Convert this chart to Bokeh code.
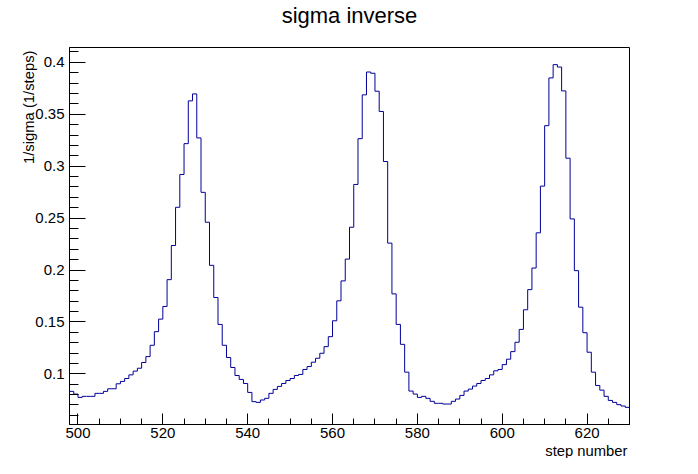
from bokeh.plotting import figure
from bokeh.models import Range1d, FixedTicker, Title
from bokeh.embed import file_html
from bokeh.resources import INLINE

# ---- data -------------------------------------------------------------
bin_start = 498          # first bin lower edge (bins of width 1)
bin_width = 1
values = [
    0.0831, 0.0805, 0.0773, 0.0783, 0.0783, 0.0783, 0.0812, 0.0812, 0.0831, 0.0856,  # 498-507
    0.0856, 0.0904, 0.0927, 0.0955, 0.0990, 0.1026, 0.1054, 0.1109, 0.1166, 0.1275,  # 508-517
    0.1406, 0.1527, 0.1649, 0.1907, 0.2236, 0.2604, 0.2920, 0.3217, 0.3629, 0.3696,  # 518-527
    0.3272, 0.2748, 0.2460, 0.2045, 0.1735, 0.1476, 0.1275, 0.1157, 0.1061, 0.0984,  # 528-537
    0.0946, 0.0907, 0.0821, 0.0732, 0.0725, 0.0748, 0.0764, 0.0812, 0.0850, 0.0879,  # 538-547
    0.0907, 0.0936, 0.0955, 0.0984, 0.0994, 0.1042, 0.1070, 0.1112, 0.1150, 0.1198,  # 548-557
    0.1262, 0.1358, 0.1511, 0.1703, 0.1895, 0.2105, 0.2412, 0.2824, 0.3265, 0.3687,  # 558-567
    0.3907, 0.3895, 0.3722, 0.3527, 0.3045, 0.2259, 0.1770, 0.1476, 0.1284, 0.1016,  # 568-577
    0.0834, 0.0805, 0.0773, 0.0783, 0.0764, 0.0735, 0.0716, 0.0716, 0.0709, 0.0709,  # 578-587
    0.0735, 0.0757, 0.0792, 0.0834, 0.0853, 0.0882, 0.0907, 0.0936, 0.0955, 0.0990,  # 588-597
    0.1029, 0.1042, 0.1089, 0.1141, 0.1214, 0.1304, 0.1428, 0.1617, 0.1811, 0.2019,  # 598-607
    0.2358, 0.2808, 0.3390, 0.3850, 0.3978, 0.3955, 0.3725, 0.3077, 0.2492, 0.1994,  # 608-617
    0.1642, 0.1396, 0.1208, 0.1016, 0.0888, 0.0843, 0.0783, 0.0744, 0.0725, 0.0703,  # 618-627
    0.0690, 0.0677,                                                                  # 628-629
]

x_ticks = [500, 520, 540, 560, 580, 600, 620]
x_tick_labels = ["500", "520", "540", "560", "580", "600", "620"]
y_ticks = [0.1, 0.15, 0.2, 0.25, 0.3, 0.35, 0.4]
y_tick_labels = ["0.1", "0.15", "0.2", "0.25", "0.3", "0.35", "0.4"]

title_text = "sigma inverse"
x_title = "step number"
y_title = "1/sigma (1/steps)"

# ---- derived ----------------------------------------------------------
n = len(values)
edges = [bin_start + i * bin_width for i in range(n + 1)]
step_y = values + [values[-1]]

x_lo, x_hi = edges[0], edges[-1]
vmin, vmax = min(values), max(values)
marg = 0.05 * (vmax - vmin)
y_lo, y_hi = vmin - marg, vmax + marg

x_minor = list(range(495, 635, 5))
y_minor = [round(0.05 + 0.01 * i, 2) for i in range(0, 38)]

W, H = 682, 458
BL, BR, BT, BB = 69, 53, 47, 31

FONT = "Liberation Sans"

p = figure(width=W, height=H,
           x_range=Range1d(x_lo, x_hi), y_range=Range1d(y_lo, y_hi),
           output_backend="svg", toolbar_location=None,
           min_border_left=BL, min_border_right=BR,
           min_border_top=BT, min_border_bottom=BB)
p.background_fill_color = "white"
p.border_fill_color = "white"
p.grid.visible = False
p.outline_line_color = "black"
p.outline_line_alpha = 1.0
p.outline_line_width = 1

p.step(x=edges, y=step_y, mode="after", line_color="#000099", line_width=1)

xa = p.xaxis[0]
xa.ticker = FixedTicker(ticks=x_ticks, minor_ticks=x_minor)
xa.major_label_overrides = dict(zip(x_ticks, x_tick_labels))
xa.major_tick_in = 11
xa.major_tick_out = 0
xa.minor_tick_in = 6
xa.minor_tick_out = 0
xa.major_label_standoff = 3
xa.major_label_text_font = FONT
xa.major_label_text_font_size = "15px"
xa.major_label_text_color = "black"
xa.axis_line_color = "black"
xa.major_tick_line_color = "black"
xa.minor_tick_line_color = "black"

ya = p.yaxis[0]
ya.ticker = FixedTicker(ticks=y_ticks, minor_ticks=y_minor)
ya.major_label_overrides = dict(zip(y_ticks, y_tick_labels))
ya.major_tick_in = 16
ya.major_tick_out = 0
ya.minor_tick_in = 9
ya.minor_tick_out = 0
ya.major_label_standoff = 5
ya.major_label_text_font = FONT
ya.major_label_text_font_size = "15px"
ya.major_label_text_color = "black"
ya.axis_line_color = "black"
ya.major_tick_line_color = "black"
ya.minor_tick_line_color = "black"

# spacer between frame and main title (pushes the title upwards)
p.add_layout(Title(text=" ", text_font=FONT, text_font_size="1px",
                   standoff=17), "above")

# main title
p.title.text = title_text
p.title.align = "center"
p.title.text_font = FONT
p.title.text_font_size = "22px"
p.title.text_font_style = "normal"
p.title.text_color = "black"
p.title.standoff = 0

# axis titles as side titles (ROOT style: aligned to the axis end)
p.add_layout(Title(text=x_title, align="right", text_font=FONT,
                   text_font_size="14.8px", text_font_style="normal",
                   text_color="black", standoff=0, offset=2), "below")
ytitle = Title(text=y_title, align="right", text_font=FONT,
               text_font_size="14.8px", text_font_style="normal",
               text_color="black", standoff=0, offset=3)
try:
    ytitle.standoff = -8
except Exception:
    pass
p.add_layout(ytitle, "left")

open("out.html", "w").write(file_html(p, INLINE))
